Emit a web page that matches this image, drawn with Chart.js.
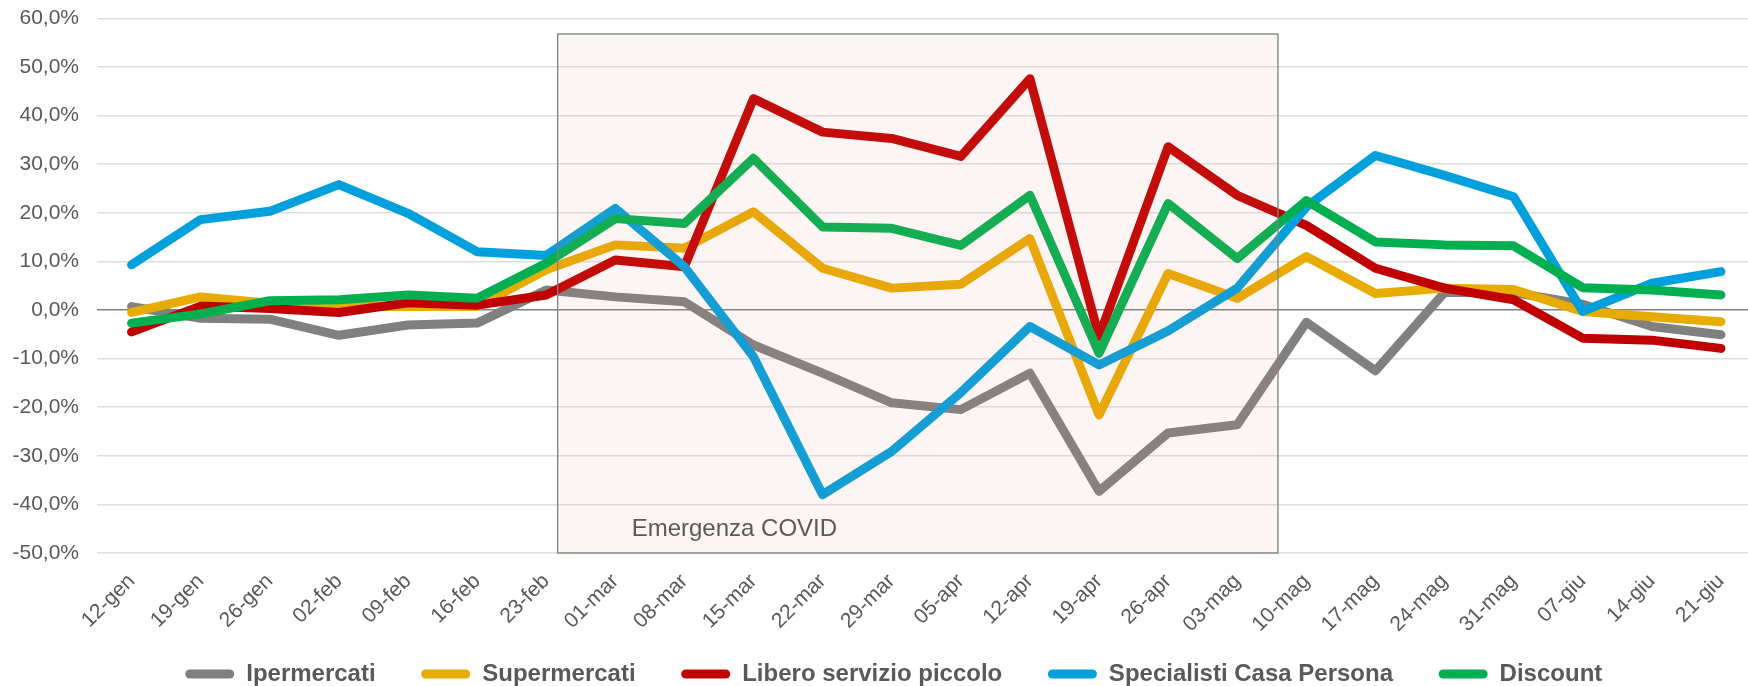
<!DOCTYPE html>
<html>
<head>
<meta charset="utf-8">
<script src="https://cdn.jsdelivr.net/npm/chart.js@4.4.1/dist/chart.umd.min.js"></script>
<style>
    html, body { margin: 0; padding: 0; background: #fff; overflow: hidden; }
    #wrap { position: relative; width: 1748px; height: 686px; overflow: hidden; }
    #myChart { position: absolute; left: 0; top: 0; }
</style>
</head>
<body>
<div id="wrap"><canvas id="myChart" width="1762" height="686"></canvas></div>
<script>
/*-----------------------------Data-------------------------------------------------*/
const weeks = ['12-gen', '19-gen', '26-gen', '02-feb', '09-feb', '16-feb', '23-feb', '01-mar',
    '08-mar', '15-mar', '22-mar', '29-mar', '05-apr', '12-apr', '19-apr', '26-apr', '03-mag',
    '10-mag', '17-mag', '24-mag', '31-mag', '07-giu', '14-giu', '21-giu'];

const ipermercati = [0.7, -1.7, -1.9, -5.2, -3.1, -2.7, 4.1, 2.7, 1.7, -7.2, -13.0, -19.1,
    -20.5, -13.0, -37.3, -25.3, -23.6, -2.5, -12.5, 3.6, 3.6, 1.2, -3.4, -5.1];
const supermercati = [-0.5, 2.7, 1.4, 0.7, 0.7, 0.7, 8.3, 13.4, 12.7, 20.2, 8.6, 4.5,
    5.3, 14.7, -21.6, 7.5, 2.4, 11.0, 3.4, 4.5, 4.2, -0.3, -1.4, -2.4];
const liberoServizio = [-4.5, 0.8, 0.3, -0.5, 1.5, 1.0, 3.1, 10.3, 8.9, 43.5, 36.6, 35.3,
    31.6, 47.6, -5.5, 33.6, 23.6, 17.4, 8.6, 4.5, 2.1, -5.8, -6.2, -7.9];
const specialisti = [9.3, 18.6, 20.3, 25.8, 19.9, 12.0, 11.2, 20.9, 8.9, -9.6, -38.0, -29.1,
    -17.0, -3.4, -11.3, -4.3, 4.5, 21.2, 31.8, 27.7, 23.3, -0.3, 5.5, 7.9];
const discount = [-2.7, -0.8, 1.9, 2.1, 3.1, 2.4, 9.6, 18.8, 17.8, 31.2, 17.1, 16.8,
    13.3, 23.6, -8.9, 21.9, 10.6, 22.5, 14.0, 13.4, 13.2, 4.6, 4.1, 3.1];

const seriesNames = ['Ipermercati', 'Supermercati', 'Libero servizio piccolo', 'Specialisti Casa Persona', 'Discount'];
const seriesColors = ['#808080', '#E8AB00', '#C00000', '#00A0DC', '#00B050'];

const yTicks = { min: -50, max: 60, step: 10 };

// covid period box, in category index / percent units
const covidBox = { from: 6.166, to: 16.59, top: 56.8, bottom: -50 };
const covidLabel = { text: 'Emergenza COVID', at: 7.237, value: -46.5 };

const FONT = "'Liberation Sans', Arial, sans-serif";
const TXT = '#595959';

/*-----------------------------Covid box-------------------------------------------------*/
const covidPlugin = {
    id: 'covidBox',
    afterLayout(chart) {
        // let tick labels use the space outside their own boxes
        chart.scales.y.left = 0;
        chart.scales.x.bottom = chart.height;
    },
    afterDatasetsDraw(chart) {
        const x = chart.scales.x, y = chart.scales.y, ctx = chart.ctx;
        const left = x.getPixelForValue(covidBox.from);
        const right = x.getPixelForValue(covidBox.to);
        const top = y.getPixelForValue(covidBox.top);
        const bottom = y.getPixelForValue(covidBox.bottom);
        ctx.save();
        ctx.fillStyle = 'rgba(235, 140, 120, 0.09)';
        ctx.fillRect(left, top, right - left, bottom - top);
        ctx.strokeStyle = '#808080';
        ctx.lineWidth = 1.3;
        ctx.strokeRect(left, top, right - left, bottom - top);
        ctx.fillStyle = TXT;
        ctx.font = '24px ' + FONT;
        ctx.textBaseline = 'alphabetic';
        ctx.fillText(covidLabel.text, x.getPixelForValue(covidLabel.at), y.getPixelForValue(covidLabel.value));
        ctx.restore();
    }
};

/*-----------------------------Chart-------------------------------------------------*/
const allSeries = [ipermercati, supermercati, liberoServizio, specialisti, discount];

let myChart = document.getElementById('myChart').getContext('2d');

let trendChart = new Chart(myChart, {
    type: 'line',
    data: {
        labels: weeks,
        datasets: allSeries.map((values, i) => ({
            label: seriesNames[i],
            data: values,
            borderColor: seriesColors[i],
            backgroundColor: seriesColors[i],
            borderWidth: 9,
            pointRadius: 0,
            pointHoverRadius: 0,
            borderCapStyle: 'round',
            borderJoinStyle: 'round',
            tension: 0,
            fill: false,
            order: allSeries.length - i
        }))
    },
    plugins: [covidPlugin],
    options: {
        responsive: false,
        animation: false,
        events: [],
        layout: {
            padding: { top: 18.4, left: 32, right: 6.5, bottom: -10 }
        },
        scales: {
            x: {
                offset: true,
                grid: { display: false },
                border: { display: false },
                ticks: {
                    autoSkip: false,
                    maxRotation: 45,
                    minRotation: 45,
                    padding: 8,
                    color: TXT,
                    font: { family: FONT, size: 21 }
                },
                afterFit: (scale) => { scale.height = 63.4; }
            },
            y: {
                min: yTicks.min,
                max: yTicks.max,
                border: { display: false },
                grid: {
                    drawTicks: false,
                    color: (c) => c.tick && c.tick.value === 0 ? '#808080' : '#DEDEDE',
                    lineWidth: 1.5
                },
                ticks: {
                    stepSize: yTicks.step,
                    padding: 18,
                    color: TXT,
                    font: { family: FONT, size: 21 },
                    callback: (v) => v.toFixed(1).replace('.', ',') + '%'
                },
                afterFit: (scale) => {
                    scale.width = 65;
                    scale.paddingTop = 0;
                    scale.paddingBottom = 0;
                }
            }
        },
        plugins: {
            title: { display: false },
            tooltip: { enabled: false },
            legend: {
                display: true,
                position: 'bottom',
                labels: {
                    boxWidth: 49,
                    boxHeight: 9,
                    useBorderRadius: true,
                    borderRadius: 4.5,
                    padding: 45.6,
                    color: TXT,
                    font: { family: FONT, size: 24, weight: 'bold' },
                    sort: (a, b) => a.datasetIndex - b.datasetIndex,
                    generateLabels: (chart) => chart.data.datasets.map((ds, i) => ({
                        text: ds.label,
                        fillStyle: ds.borderColor,
                        strokeStyle: ds.borderColor,
                        lineWidth: 0,
                        borderRadius: 4.5,
                        fontColor: TXT,
                        datasetIndex: i
                    }))
                }
            }
        }
    }
});
</script>
</body>
</html>
